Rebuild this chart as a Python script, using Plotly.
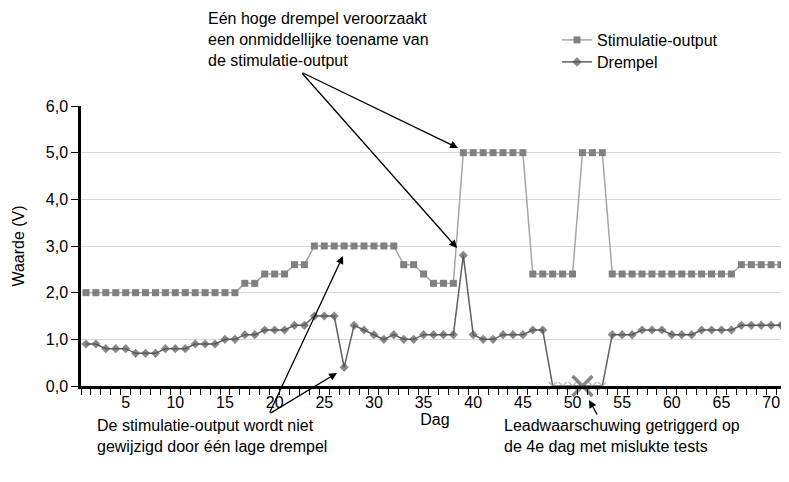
import plotly.graph_objects as go

days = list(range(1, 72))
stimulatie = ([2.0]*16 + [2.2]*2 + [2.4]*3 + [2.6]*2 + [3.0]*9 + [2.6]*2 + [2.4] + [2.2]*3
              + [5.0]*7 + [2.4]*5 + [5.0]*3 + [2.4]*13 + [2.6]*5)
drempel = [0.9, 0.9, 0.8, 0.8, 0.8, 0.7, 0.7, 0.7, 0.8, 0.8,
           0.8, 0.9, 0.9, 0.9, 1.0, 1.0, 1.1, 1.1, 1.2, 1.2,
           1.2, 1.3, 1.3, 1.5, 1.5, 1.5, 0.4, 1.3, 1.2, 1.1,
           1.0, 1.1, 1.0, 1.0, 1.1, 1.1, 1.1, 1.1, 2.8, 1.1,
           1.0, 1.0, 1.1, 1.1, 1.1, 1.2, 1.2, 0.0, 0.0, 0.0,
           0.0, 0.0, 0.0, 1.1, 1.1, 1.1, 1.2, 1.2, 1.2, 1.1,
           1.1, 1.1, 1.2, 1.2, 1.2, 1.2, 1.3, 1.3, 1.3, 1.3, 1.3]
failed_days = [48, 49, 50, 51, 52, 53]
warning_day = 51
x_tick_vals = list(range(5, 71, 5))
y_tick_vals = [0, 1, 2, 3, 4, 5, 6]

FONT = "Liberation Sans, Arial, sans-serif"
FS = 16

d_symbols, d_sizes, d_colors, d_lw = [], [], [], []
for d in days:
    if d == warning_day:
        d_symbols.append("x-thin"); d_sizes.append(20); d_colors.append("#555555"); d_lw.append(3.5)
    elif d in failed_days:
        d_symbols.append("x-thin"); d_sizes.append(8); d_colors.append("#999999"); d_lw.append(1.2)
    else:
        d_symbols.append("diamond"); d_sizes.append(7); d_colors.append("#555555"); d_lw.append(0)

fig = go.Figure()
fig.add_trace(go.Scatter(
    x=days, y=stimulatie, name="Stimulatie-output", mode="lines+markers",
    line=dict(color="#a6a6a6", width=1.5),
    marker=dict(symbol="square", size=7, color="#808080"),
    cliponaxis=False, legend="legend",
))
fig.add_trace(go.Scatter(
    x=days, y=drempel, name="Drempel", mode="lines+markers",
    line=dict(color="#606060", width=1.5),
    marker=dict(symbol=d_symbols, size=d_sizes, color=d_colors,
                line=dict(color=d_colors, width=d_lw)),
    cliponaxis=False, legend="legend2",
))

# page has an 8px body margin
OFF = 8
L, R, T, B = 73, 0, 98, 96
W, H = 781, 474
pw, ph = W - L - R, H - T - B

def px(xp):
    return (xp - OFF - L) / pw

def py(yp):
    return (H - B - (yp - OFF)) / ph

annotations = []
txt_font = dict(family=FONT, size=FS, color="black")
annotations.append(dict(xref="paper", yref="paper", x=px(206), y=py(8), xanchor="left", yanchor="top",
                        align="left", showarrow=False, font=txt_font,
                        text="Eén hoge drempel veroorzaakt<br>een onmiddellijke toename van<br>de stimulatie-output"))
annotations.append(dict(xref="paper", yref="paper", x=px(95), y=py(415), xanchor="left", yanchor="top",
                        align="left", showarrow=False, font=txt_font,
                        text="De stimulatie-output wordt niet<br>gewijzigd door één lage drempel"))
annotations.append(dict(xref="paper", yref="paper", x=px(502), y=py(415), xanchor="left", yanchor="top",
                        align="left", showarrow=False, font=txt_font,
                        text="Leadwaarschuwing getriggerd op<br>de 4e dag met mislukte tests"))

arrows = [((458, 148), (301, 72)), ((457, 248), (301, 72)),
          ((343, 256), (269, 414)), ((337, 373), (269, 414)),
          ((589, 400), (598, 416))]
for (hx, hy), (tx, ty) in arrows:
    annotations.append(dict(xref="paper", yref="paper", x=px(hx), y=py(hy),
                            axref="pixel", ayref="pixel", ax=tx - hx, ay=ty - hy,
                            showarrow=True, arrowhead=2, arrowsize=1.2, arrowwidth=1.3,
                            arrowcolor="black", text=""))

leg_common = dict(xanchor="left", yanchor="top", font=dict(family=FONT, size=FS),
                  bgcolor="rgba(0,0,0,0)")

fig.update_layout(
    width=W, height=H, margin=dict(l=L, r=R, t=T, b=B),
    plot_bgcolor="white", paper_bgcolor="white",
    separators=",.",
    font=dict(family=FONT, size=FS, color="black"),
    showlegend=True,
    legend=dict(x=px(557), y=py(23), **leg_common),
    legend2=dict(x=px(557), y=py(45), **leg_common),
    annotations=annotations,
    xaxis=dict(range=[0.5, 71.8], tickvals=x_tick_vals, ticks="outside", ticklen=0,
               showline=True, linecolor="black", linewidth=2.5, showgrid=False, zeroline=False,
               tickfont=dict(family=FONT, size=FS),
               minor=dict(tick0=0.5, dtick=1, ticks="outside", ticklen=6, tickcolor="black", tickwidth=1.3),
               title=dict(text="Dag", font=dict(family=FONT, size=FS), standoff=0)),
    yaxis=dict(range=[0, 6], tickvals=y_tick_vals, tickformat=".1f", ticks="outside", ticklen=7,
               tickcolor="black", showline=True, linecolor="black", linewidth=2.5,
               showgrid=True, gridcolor="#d9d9d9", gridwidth=1, zeroline=False,
               tickfont=dict(family=FONT, size=FS),
               title=dict(text="Waarde (V)", font=dict(family=FONT, size=FS), standoff=18)),
)

fig.write_html("out.html")
